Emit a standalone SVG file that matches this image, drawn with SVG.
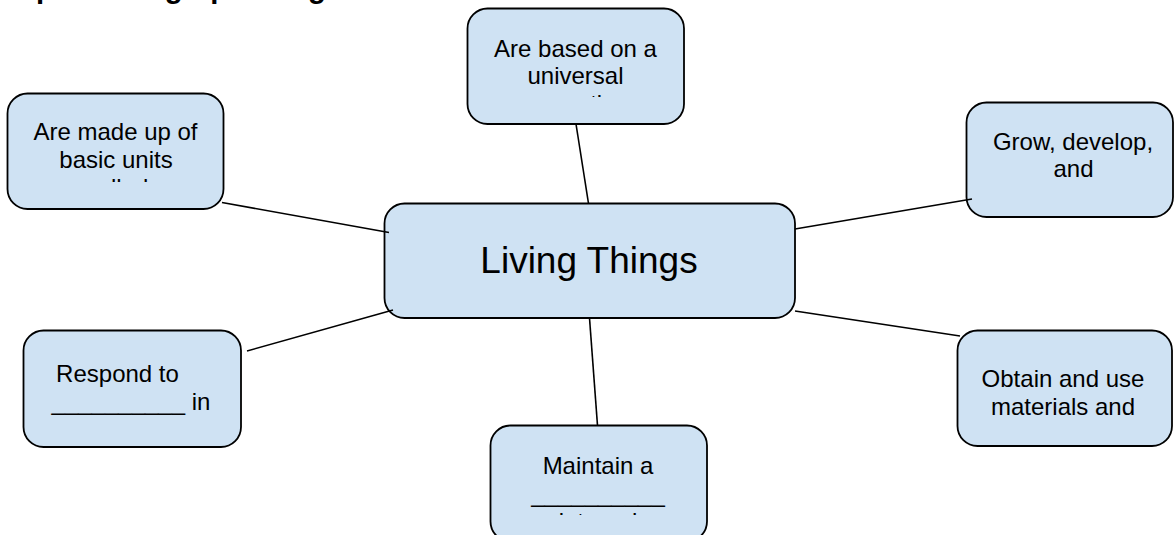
<svg xmlns="http://www.w3.org/2000/svg" width="1174" height="535" viewBox="0 0 1174 535">
<style>
.box{fill:#cfe2f3;stroke:#000;stroke-width:1.8}
.t{font-family:"Liberation Sans",Arial,sans-serif;font-size:24px;fill:#000;text-anchor:middle}
.big{font-family:"Liberation Sans",Arial,sans-serif;font-size:37px;fill:#000;text-anchor:middle}
.title{font-family:"Liberation Sans",Arial,sans-serif;font-size:29.3px;font-weight:bold;fill:#000}
.c{stroke:#000;stroke-width:1.6;fill:none}
</style>
<defs>
<clipPath id="c1"><rect x="0" y="93" width="260" height="89"/></clipPath>
<clipPath id="c2"><rect x="460" y="8" width="260" height="89"/></clipPath>
<clipPath id="c5"><rect x="0" y="330" width="260" height="89"/></clipPath>
<clipPath id="c6"><rect x="480" y="425" width="260" height="90"/></clipPath>
</defs>
<rect width="1174" height="535" fill="#fff"/>
<text class="title" x="-29" y="-2">Complete the graphic organizer</text>
<g id="node-cells">
<rect class="box" x="7.5" y="93.5" width="216" height="115.5" rx="20"/>
<g clip-path="url(#c1)">
<text class="t" x="115.5" y="140">Are made up of</text>
<text class="t" x="116" y="168">basic units</text>
<text class="t" x="117" y="196">called</text>
</g>
</g>
<g id="node-code">
<rect class="box" x="467.5" y="8.5" width="216.5" height="115.5" rx="20"/>
<g clip-path="url(#c2)">
<text class="t" x="575.5" y="56.5">Are based on a</text>
<text class="t" x="575.5" y="84">universal</text>
<text class="t" x="575.5" y="112">genetic</text>
</g>
</g>
<g id="node-grow">
<rect class="box" x="966.5" y="102.5" width="206.5" height="114.5" rx="20"/>
<text class="t" x="1073" y="150">Grow, develop,</text>
<text class="t" x="1073.5" y="177">and</text>
</g>
<g id="node-respond">
<rect class="box" x="23.5" y="330.5" width="217.5" height="116.5" rx="20"/>
<g clip-path="url(#c5)">
<text class="t" x="117.5" y="381.5">Respond to</text>
<text class="t" x="131" y="409.5">__________ in</text>
</g>
</g>
<g id="node-maintain">
<rect class="box" x="490.5" y="425.5" width="216.5" height="116" rx="20"/>
<g clip-path="url(#c6)">
<text class="t" x="598" y="473.5">Maintain a</text>
<text class="t" x="598" y="501.5">__________</text>
<text class="t" x="598" y="529.5">internal</text>
</g>
</g>
<g id="node-obtain">
<rect class="box" x="957.5" y="330.5" width="214.5" height="115.5" rx="20"/>
<text class="t" x="1063" y="386.5">Obtain and use</text>
<text class="t" x="1063" y="415">materials and</text>
</g>
<g id="node-center">
<rect class="box" x="384.5" y="203.5" width="410.5" height="114.5" rx="20"/>
<text class="big" x="589" y="273">Living Things</text>
</g>
<g id="connectors">
<line class="c" x1="222" y1="202.5" x2="389" y2="232.5"/>
<line class="c" x1="576" y1="124" x2="588.5" y2="203.5"/>
<line class="c" x1="972" y1="199" x2="795" y2="229"/>
<line class="c" x1="247" y1="351" x2="393" y2="310"/>
<line class="c" x1="589.5" y1="318" x2="597.5" y2="425.5"/>
<line class="c" x1="795" y1="311" x2="960" y2="336"/>
</g>
</svg>
